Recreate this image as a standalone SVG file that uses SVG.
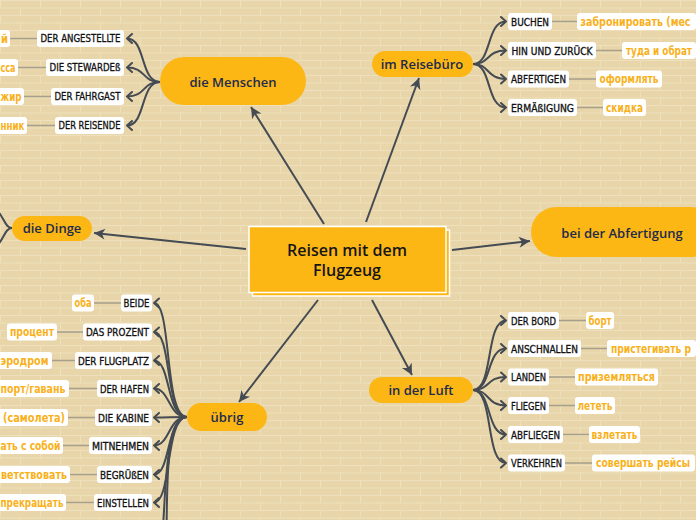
<svg xmlns="http://www.w3.org/2000/svg" width="696" height="520" viewBox="0 0 696 520">
<defs>
<pattern id="bg" width="40" height="15" patternUnits="userSpaceOnUse">
<rect width="40" height="15" fill="#e8d6aa"/>
<path d="M0 0.5H40M0 8H40M0.5 0V7.5M20.5 7.5V15" stroke="#eee0bc" stroke-width="1" fill="none"/>
</pattern>
<marker id="ah" markerUnits="userSpaceOnUse" markerWidth="14" markerHeight="14" viewBox="-12 -7 14 14" refX="0" refY="0" orient="auto">
<path d="M-11,-5.5 L0,0 L-11,5.5 L-8,0 Z" fill="#454b52"/>
</marker>
<marker id="ch" markerUnits="userSpaceOnUse" markerWidth="10" markerHeight="12" viewBox="-8 -6 10 12" refX="0" refY="0" orient="auto">
<path d="M-5,-4.5 L0,0 L-5,4.5" fill="none" stroke="#454b52" stroke-width="2" stroke-linejoin="round" stroke-linecap="round"/>
</marker>
<style>
.main{stroke:#454b52;stroke-width:2;fill:none;marker-end:url(#ah)}
.br{stroke:#454b52;stroke-width:2;fill:none;marker-end:url(#ch)}
.brn{stroke:#454b52;stroke-width:2;fill:none}
.ln{stroke:#a59f8c;stroke-width:1.5}
.pill{fill:#fcb715}
.tt{font-family:"Open Sans","DejaVu Sans",sans-serif;font-size:13px;font-weight:600;fill:#1e2b4c;text-anchor:middle}
.sb{fill:#ffffff}
.st{font-family:"DejaVu Sans Condensed","DejaVu Sans",sans-serif;font-size:10px;fill:#111;stroke:#111;stroke-width:0.3;text-anchor:middle}
.rt{font-family:"DejaVu Sans",sans-serif;font-size:11.5px;font-weight:bold;fill:#f9b11a}
.re{text-anchor:end}
.rm{text-anchor:middle}
</style>
</defs>
<rect width="696" height="520" fill="url(#bg)"/>

<g id="connectors">
<path class="main" d="M324,224 L251,107"/>
<path class="main" d="M366,222 L419,78"/>
<path class="main" d="M246,249 L94,233"/>
<path class="main" d="M452,250 L530,241"/>
<path class="main" d="M372,300 L412,375"/>
<path class="main" d="M318,300 L239,402"/>
<path class="br" d="M160,82 C140,82 146,38.5 127,38.5"/>
<path class="br" d="M160,82 C142,82 146,67.5 127,67.5"/>
<path class="br" d="M160,82 C142,82 146,96.5 127,96.5"/>
<path class="br" d="M160,82 C140,82 146,125.5 127,125.5"/>
<path class="brn" d="M12,228 C2,228 4,205 -20,200"/>
<path class="brn" d="M12,228 C2,228 4,251 -20,256"/>
<path class="br" d="M473,64 C492,64 486,21.5 506,21.5"/>
<path class="br" d="M473,64 C490,64 486,50.5 506,50.5"/>
<path class="br" d="M473,64 C490,64 486,79 506,79"/>
<path class="br" d="M473,64 C492,64 486,107.5 506,107.5"/>
<path class="br" d="M473,390 C494,390 485,320.5 506,320.5"/>
<path class="br" d="M473,390 C492,390 486,348.5 506,348.5"/>
<path class="br" d="M473,390 C490,390 486,377 506,377"/>
<path class="br" d="M473,390 C490,390 486,405.5 506,405.5"/>
<path class="br" d="M473,390 C492,390 486,434.5 506,434.5"/>
<path class="br" d="M473,390 C494,390 485,463 506,463"/>
<path class="br" d="M187,417 C164,417 172,303 154,303"/>
<path class="br" d="M187,417 C165,417 172,332 154,332"/>
<path class="br" d="M187,417 C166,417 171,360.5 154,360.5"/>
<path class="br" d="M187,417 C168,417 170,388.5 154,388.5"/>
<path class="br" d="M187,417 C170,417 170,417.5 154,417.5"/>
<path class="br" d="M187,417 C168,417 170,445.5 154,445.5"/>
<path class="br" d="M187,417 C166,417 171,474.5 154,474.5"/>
<path class="br" d="M187,417 C165,417 172,502.5 154,502.5"/>
<path class="brn" d="M187,417 C164,417 166,500 162,540"/>
<path class="brn" d="M187,417 C163,417 168,500 166,560"/>
<path class="ln" d="M10,38.5H37M18,67.5H46M24,96.5H51M27,125.5H55"/>
<path class="ln" d="M552,21.5H577M596,50.5H622M569,79H596M577,107.5H603"/>
<path class="ln" d="M559,320.5H586M581,348.5H607M549,377H575M549,405.5H575M563,434.5H589M565,463H592"/>
<path class="ln" d="M94,303H121M57,332H83M52,360.5H75M69,388.5H97M68,417.5H95M63,445.5H89M70,474.5H97M66,502.5H94"/>
</g>

<g id="center">
<rect x="252.5" y="230" width="197" height="66" fill="#fcb715" stroke="#fff" stroke-width="1.5"/>
<rect x="249" y="226.5" width="197" height="66" fill="#fcb715" stroke="#fff" stroke-width="1.5"/>
<text x="347" y="256" font-family="'Open Sans','DejaVu Sans',sans-serif" font-size="16" font-weight="600" fill="#151515" text-anchor="middle">Reisen mit dem</text>
<text x="347" y="276" font-family="'Open Sans','DejaVu Sans',sans-serif" font-size="16" font-weight="600" fill="#151515" text-anchor="middle">Flugzeug</text>
</g>

<g id="t-menschen"><rect class="pill" x="160" y="57" width="146" height="48" rx="24"/><text class="tt" x="233" y="87">die Menschen</text></g>
<g id="t-reiseburo"><rect class="pill" x="372" y="51" width="101" height="26" rx="13"/><text class="tt" x="422" y="68.5">im Reisebüro</text></g>
<g id="t-dinge"><rect class="pill" x="12" y="216" width="80" height="25" rx="12.5"/><text class="tt" x="52" y="233">die Dinge</text></g>
<g id="t-abfertigung"><rect class="pill" x="531" y="207" width="185" height="50" rx="25"/><text class="tt" x="622" y="237.5">bei der Abfertigung</text></g>
<g id="t-luft"><rect class="pill" x="369" y="377" width="104" height="26" rx="13"/><text class="tt" x="421" y="394.5">in der Luft</text></g>
<g id="t-ubrig"><rect class="pill" x="187" y="403" width="80" height="28" rx="14"/><text class="tt" x="227" y="421.5">übrig</text></g>

<g id="s-angestellte"><rect class="sb" x="37" y="30" width="87" height="17" rx="3"/><text class="st" x="80.5" y="42" textLength="80" lengthAdjust="spacingAndGlyphs">DER ANGESTELLTE</text></g>
<g id="s-stewardess"><rect class="sb" x="46" y="59" width="78" height="17" rx="3"/><text class="st" x="85" y="71" textLength="71" lengthAdjust="spacingAndGlyphs">DIE STEWARDEß</text></g>
<g id="s-fahrgast"><rect class="sb" x="51" y="88" width="73" height="17" rx="3"/><text class="st" x="87.5" y="100" textLength="66" lengthAdjust="spacingAndGlyphs">DER FAHRGAST</text></g>
<g id="s-reisende"><rect class="sb" x="55" y="117" width="69" height="17" rx="3"/><text class="st" x="89.5" y="129" textLength="62" lengthAdjust="spacingAndGlyphs">DER REISENDE</text></g>
<g id="r-angestellte"><rect class="sb" x="-6" y="30" width="16" height="17" rx="3"/><text class="rt" x="1" y="42.5" textLength="7" lengthAdjust="spacingAndGlyphs">й</text></g>
<g id="r-stewardess"><rect class="sb" x="-6" y="59" width="24" height="17" rx="3"/><text class="rt" x="0.5" y="71.5" textLength="15" lengthAdjust="spacingAndGlyphs">сса</text></g>
<g id="r-fahrgast"><rect class="sb" x="-6" y="88" width="30" height="17" rx="3"/><text class="rt" x="0.5" y="100.5" textLength="21" lengthAdjust="spacingAndGlyphs">жир</text></g>
<g id="r-reisende"><rect class="sb" x="-6" y="117" width="33" height="17" rx="3"/><text class="rt" x="0.5" y="129.5" textLength="24" lengthAdjust="spacingAndGlyphs">нник</text></g>

<g id="s-buchen"><rect class="sb" x="508" y="13" width="44" height="17" rx="3"/><text class="st" x="530" y="25.5" textLength="38" lengthAdjust="spacingAndGlyphs">BUCHEN</text></g>
<g id="s-hinundzuruck"><rect class="sb" x="508" y="42" width="88" height="17" rx="3"/><text class="st" x="552" y="54.5" textLength="81" lengthAdjust="spacingAndGlyphs">HIN UND ZURÜCK</text></g>
<g id="s-abfertigen"><rect class="sb" x="508" y="70.5" width="61" height="17" rx="3"/><text class="st" x="538.5" y="83" textLength="55" lengthAdjust="spacingAndGlyphs">ABFERTIGEN</text></g>
<g id="s-ermassigung"><rect class="sb" x="508" y="99" width="69" height="17" rx="3"/><text class="st" x="542.5" y="111.5" textLength="63" lengthAdjust="spacingAndGlyphs">ERMÄßIGUNG</text></g>
<g id="r-buchen"><rect class="sb" x="577" y="13" width="119" height="17" rx="3"/><text class="rt" x="580.5" y="25.5" textLength="110" lengthAdjust="spacingAndGlyphs">забронировать (мес</text></g>
<g id="r-hinundzuruck"><rect class="sb" x="622" y="42" width="74" height="17" rx="3"/><text class="rt" x="626" y="54.5" textLength="66" lengthAdjust="spacingAndGlyphs">туда и обрат</text></g>
<g id="r-abfertigen"><rect class="sb" x="596" y="70.5" width="66" height="17" rx="3"/><text class="rt rm" x="629" y="83" textLength="59" lengthAdjust="spacingAndGlyphs">оформлять</text></g>
<g id="r-ermassigung"><rect class="sb" x="603" y="99" width="43" height="17" rx="3"/><text class="rt rm" x="624.5" y="111.5" textLength="37" lengthAdjust="spacingAndGlyphs">скидка</text></g>

<g id="s-bord"><rect class="sb" x="508" y="312" width="51" height="17" rx="3"/><text class="st" x="533.5" y="324.5" textLength="45" lengthAdjust="spacingAndGlyphs">DER BORD</text></g>
<g id="s-anschnallen"><rect class="sb" x="508" y="340" width="73" height="17" rx="3"/><text class="st" x="544.5" y="352.5" textLength="67" lengthAdjust="spacingAndGlyphs">ANSCHNALLEN</text></g>
<g id="s-landen"><rect class="sb" x="508" y="368.5" width="41" height="17" rx="3"/><text class="st" x="528.5" y="381" textLength="35" lengthAdjust="spacingAndGlyphs">LANDEN</text></g>
<g id="s-fliegen"><rect class="sb" x="508" y="397" width="41" height="17" rx="3"/><text class="st" x="528.5" y="409.5" textLength="35" lengthAdjust="spacingAndGlyphs">FLIEGEN</text></g>
<g id="s-abfliegen"><rect class="sb" x="508" y="426" width="55" height="17" rx="3"/><text class="st" x="535.5" y="438.5" textLength="49" lengthAdjust="spacingAndGlyphs">ABFLIEGEN</text></g>
<g id="s-verkehren"><rect class="sb" x="508" y="454.5" width="57" height="17" rx="3"/><text class="st" x="536.5" y="467" textLength="51" lengthAdjust="spacingAndGlyphs">VERKEHREN</text></g>
<g id="r-bord"><rect class="sb" x="586" y="312" width="28" height="17" rx="3"/><text class="rt rm" x="600" y="324.5" textLength="23" lengthAdjust="spacingAndGlyphs">борт</text></g>
<g id="r-anschnallen"><rect class="sb" x="607" y="340" width="89" height="17" rx="3"/><text class="rt" x="611" y="352.5" textLength="80" lengthAdjust="spacingAndGlyphs">пристегивать р</text></g>
<g id="r-landen"><rect class="sb" x="575" y="368.5" width="83" height="17" rx="3"/><text class="rt rm" x="616.5" y="381" textLength="77" lengthAdjust="spacingAndGlyphs">приземляться</text></g>
<g id="r-fliegen"><rect class="sb" x="575" y="397" width="40" height="17" rx="3"/><text class="rt rm" x="595" y="409.5" textLength="35" lengthAdjust="spacingAndGlyphs">лететь</text></g>
<g id="r-abfliegen"><rect class="sb" x="589" y="426" width="51" height="17" rx="3"/><text class="rt rm" x="614.5" y="438.5" textLength="46" lengthAdjust="spacingAndGlyphs">взлетать</text></g>
<g id="r-verkehren"><rect class="sb" x="592" y="454.5" width="103" height="17" rx="3"/><text class="rt rm" x="643" y="467" textLength="94" lengthAdjust="spacingAndGlyphs">совершать рейсы</text></g>

<g id="s-beide"><rect class="sb" x="121" y="294.5" width="31" height="17" rx="3"/><text class="st" x="136.5" y="307" textLength="26" lengthAdjust="spacingAndGlyphs">BEIDE</text></g>
<g id="s-prozent"><rect class="sb" x="83" y="323.5" width="69" height="17" rx="3"/><text class="st" x="117.5" y="336" textLength="63" lengthAdjust="spacingAndGlyphs">DAS PROZENT</text></g>
<g id="s-flugplatz"><rect class="sb" x="75" y="352" width="77" height="17" rx="3"/><text class="st" x="113.5" y="364.5" textLength="71" lengthAdjust="spacingAndGlyphs">DER FLUGPLATZ</text></g>
<g id="s-hafen"><rect class="sb" x="97" y="380" width="55" height="17" rx="3"/><text class="st" x="124.5" y="392.5" textLength="49" lengthAdjust="spacingAndGlyphs">DER HAFEN</text></g>
<g id="s-kabine"><rect class="sb" x="95" y="409" width="57" height="17" rx="3"/><text class="st" x="123.5" y="421.5" textLength="51" lengthAdjust="spacingAndGlyphs">DIE KABINE</text></g>
<g id="s-mitnehmen"><rect class="sb" x="89" y="437" width="63" height="17" rx="3"/><text class="st" x="120.5" y="449.5" textLength="57" lengthAdjust="spacingAndGlyphs">MITNEHMEN</text></g>
<g id="s-begrussen"><rect class="sb" x="97" y="466" width="55" height="17" rx="3"/><text class="st" x="124.5" y="478.5" textLength="49" lengthAdjust="spacingAndGlyphs">BEGRÜßEN</text></g>
<g id="s-einstellen"><rect class="sb" x="94" y="494" width="58" height="17" rx="3"/><text class="st" x="123" y="506.5" textLength="52" lengthAdjust="spacingAndGlyphs">EINSTELLEN</text></g>
<g id="r-beide"><rect class="sb" x="72" y="294.5" width="22" height="17" rx="3"/><text class="rt rm" x="83" y="307" textLength="17" lengthAdjust="spacingAndGlyphs">оба</text></g>
<g id="r-prozent"><rect class="sb" x="7" y="323.5" width="50" height="17" rx="3"/><text class="rt rm" x="32" y="336" textLength="44" lengthAdjust="spacingAndGlyphs">процент</text></g>
<g id="r-flugplatz"><rect class="sb" x="-6" y="352" width="58" height="17" rx="3"/><text class="rt" x="0.5" y="364.5" textLength="48" lengthAdjust="spacingAndGlyphs">эродром</text></g>
<g id="r-hafen"><rect class="sb" x="-6" y="380" width="75" height="17" rx="3"/><text class="rt" x="0.5" y="392.5" textLength="65" lengthAdjust="spacingAndGlyphs">порт/гавань</text></g>
<g id="r-kabine"><rect class="sb" x="-6" y="409" width="74" height="17" rx="3"/><text class="rt" x="3" y="421.5" textLength="62" lengthAdjust="spacingAndGlyphs">(самолета)</text></g>
<g id="r-mitnehmen"><rect class="sb" x="-6" y="437" width="69" height="17" rx="3"/><text class="rt" x="0.5" y="449.5" textLength="60" lengthAdjust="spacingAndGlyphs">ать с собой</text></g>
<g id="r-begrussen"><rect class="sb" x="-6" y="466" width="76" height="17" rx="3"/><text class="rt" x="1" y="478.5" textLength="66" lengthAdjust="spacingAndGlyphs">ветствовать</text></g>
<g id="r-einstellen"><rect class="sb" x="-6" y="494" width="72" height="17" rx="3"/><text class="rt" x="0.5" y="506.5" textLength="63" lengthAdjust="spacingAndGlyphs">прекращать</text></g>
</svg>
